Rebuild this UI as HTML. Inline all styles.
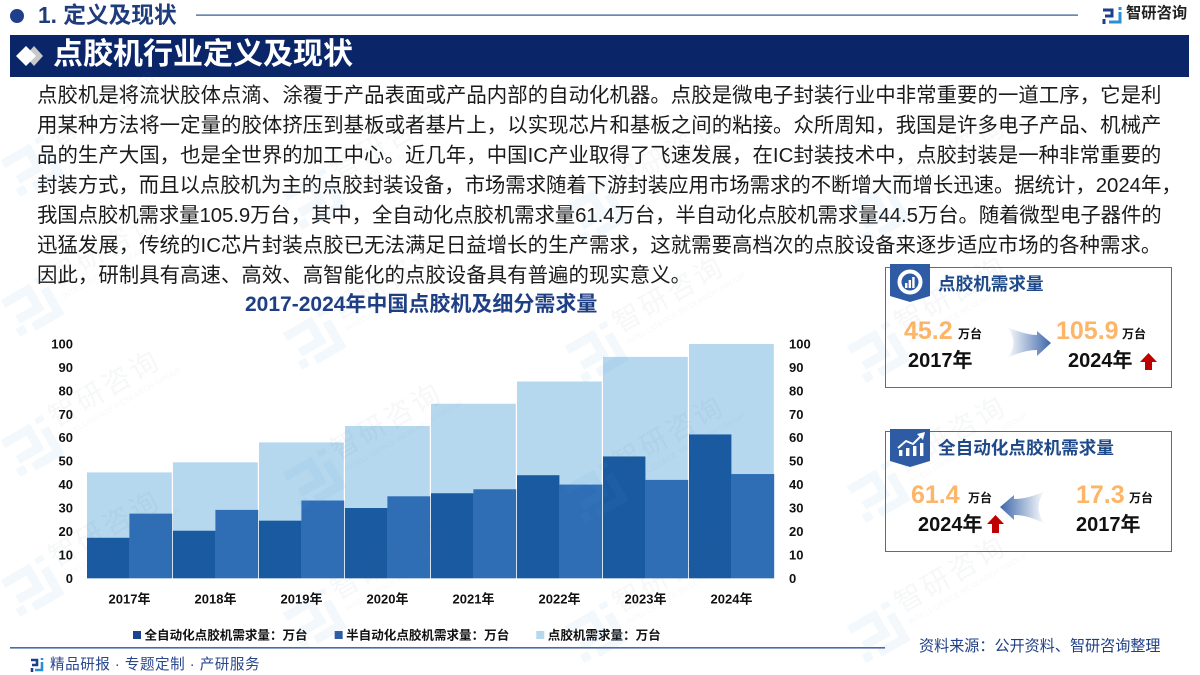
<!DOCTYPE html>
<html lang="zh">
<head>
<meta charset="utf-8">
<title>点胶机行业定义及现状</title>
<style>
html,body{margin:0;padding:0;background:#fff;width:1200px;height:675px;overflow:hidden}
#page{position:relative;width:1200px;height:675px;overflow:hidden;background:#fff;font-family:"Liberation Sans","Noto Sans CJK SC",sans-serif;color:#111}
.abs{position:absolute;white-space:nowrap;line-height:1}
.line{position:absolute;left:37px;white-space:nowrap;font-size:20.4px;line-height:30px;color:#1a1a1a}
.b{font-weight:700}
.num{position:absolute;white-space:nowrap;line-height:1;font-weight:700;font-size:25px;color:#fdb567}
.unit{position:absolute;white-space:nowrap;line-height:1;font-weight:700;font-size:12px;color:#111}
.yr{position:absolute;white-space:nowrap;line-height:1;font-weight:700;font-size:20px;color:#111}
.card{position:absolute;left:885px;width:285px;box-sizing:content-box;border:1.5px solid #4a6ea8;background:#fff}
svg{position:absolute;left:0;top:0;overflow:hidden}
</style>
</head>
<body>
<div id="page">

<!-- header -->
<svg width="1200" height="80">
  <circle cx="17" cy="16" r="7" fill="#1f3f8a"/>
  <rect x="196" y="14.5" width="882" height="1.2" fill="#2d5496"/>
  <g transform="translate(1102,7)" fill="none" stroke-width="3">
    <path d="M1 3H10V9H3" stroke="#1f3f8a"/><path d="M2 12V17" stroke="#1f3f8a"/>
    <path d="M18 3V0" stroke="#2b8fd8"/><path d="M18 5V15H7" stroke="#2b8fd8"/>
  </g>
  <rect x="10" y="35" width="1179" height="42" fill="#0b2668"/>
  <polygon points="34,46 43,56 34,66 25,56" fill="#c8c8c8"/>
  <polygon points="26,46 36,56 26,66 16,56" fill="#ffffff"/>
</svg>
<div class="abs b" style="left:38px;top:4px;font-size:22.7px;color:#1f3c7d">1. 定义及现状</div>
<div class="abs b" style="left:1126px;top:6px;font-size:15.3px;color:#222">智研咨询</div>
<div class="abs b" style="left:53px;top:40px;font-size:30px;color:#fff">点胶机行业定义及现状</div>

<!-- paragraph -->
<div>
<div class="line" style="top:81px;letter-spacing:.055px">点胶机是将流状胶体点滴、涂覆于产品表面或产品内部的自动化机器。点胶是微电子封装行业中非常重要的一道工序，它是利</div>
<div class="line" style="top:111px;letter-spacing:.055px">用某种方法将一定量的胶体挤压到基板或者基片上，以实现芯片和基板之间的粘接。众所周知，我国是许多电子产品、机械产</div>
<div class="line" style="top:141px;letter-spacing:.05px">品的生产大国，也是全世界的加工中心。近几年，中国IC产业取得了飞速发展，在IC封装技术中，点胶封装是一种非常重要的</div>
<div class="line" style="top:171px;letter-spacing:-.03px">封装方式，而且以点胶机为主的点胶封装设备，市场需求随着下游封装应用市场需求的不断增大而增长迅速。据统计，2024年，</div>
<div class="line" style="top:201px;letter-spacing:-.08px">我国点胶机需求量105.9万台，其中，全自动化点胶机需求量61.4万台，半自动化点胶机需求量44.5万台。随着微型电子器件的</div>
<div class="line" style="top:231px;letter-spacing:.05px">迅猛发展，传统的IC芯片封装点胶已无法满足日益增长的生产需求，这就需要高档次的点胶设备来逐步适应市场的各种需求。</div>
<div class="line" style="top:261px;letter-spacing:.05px">因此，研制具有高速、高效、高智能化的点胶设备具有普遍的现实意义。</div>
</div>

<!-- chart -->
<div class="abs b" style="left:245px;top:294px;font-size:21px;color:#1f3f85">2017-2024年中国点胶机及细分需求量</div>
<svg id="chart" width="1200" height="675"></svg>

<!-- card 1 -->
<div class="card" style="top:267px;height:119px"></div>
<svg width="1200" height="675">
  <defs>
    <linearGradient id="arrR" x1="0" x2="1" y1="0" y2="0"><stop offset="0" stop-color="#ffffff"/><stop offset="1" stop-color="#3d66aa"/></linearGradient>
    <linearGradient id="arrL" x1="1" x2="0" y1="0" y2="0"><stop offset="0" stop-color="#ffffff"/><stop offset="1" stop-color="#3d66aa"/></linearGradient>
  </defs>
  <polygon points="890,264 930,264 930,296 910,302 890,296" fill="#2f5ba5"/>
  <g>
    <circle cx="910" cy="282" r="10.5" fill="none" stroke="#fff" stroke-width="4"/>
    <rect x="905" y="283" width="2.4" height="5" fill="#fff"/><rect x="908.6" y="280" width="2.4" height="8" fill="#fff"/><rect x="912.2" y="277" width="2.4" height="11" fill="#fff"/>
  </g>
  <path d="M1007 327 Q1026 335 1037 335 L1037 331 L1051 343 L1037 356 L1037 350 Q1024 350 1007 358 Q1020 343 1007 327 Z" fill="url(#arrR)"/>
  <polygon points="1148.5,353 1157,362 1152,362 1152,370 1145,370 1145,362 1140,362" fill="#c00000"/>
</svg>
<div class="abs b" style="left:938px;top:276px;font-size:17.6px;color:#1f4a8a">点胶机需求量</div>
<div class="num" style="left:904px;top:319px">45.2</div>
<div class="unit" style="left:958px;top:328px">万台</div>
<div class="yr" style="left:908px;top:351px">2017年</div>
<div class="num" style="left:1056px;top:319px">105.9</div>
<div class="unit" style="left:1122px;top:328px">万台</div>
<div class="yr" style="left:1068px;top:351px">2024年</div>

<!-- card 2 -->
<div class="card" style="top:431px;height:119px"></div>
<svg width="1200" height="675">
  <polygon points="890,429 930,429 930,461 910,467 890,461" fill="#2f5ba5"/>
  <g fill="#fff">
    <rect x="899" y="450" width="3.4" height="6"/><rect x="906" y="448" width="3.4" height="8"/><rect x="913" y="446" width="3.4" height="10"/><rect x="920" y="443" width="3.4" height="13"/>
    <path d="M898 448 L906 441 L913 444 L922 435" fill="none" stroke="#fff" stroke-width="2"/>
    <polygon points="917,434 925,432 923,440"/>
  </g>
  <path d="M1045 491 Q1028 499 1014 499 L1014 495 L1000 507 L1014 520 L1014 515 Q1028 515 1045 524 Q1032 507 1045 491 Z" fill="url(#arrL)"/>
  <polygon points="995.5,515 1004,524 999,524 999,533 992,533 992,524 987,524" fill="#c00000"/>
</svg>
<div class="abs b" style="left:938px;top:440px;font-size:17.6px;color:#1f4a8a">全自动化点胶机需求量</div>
<div class="num" style="left:911px;top:483px">61.4</div>
<div class="unit" style="left:968px;top:492px">万台</div>
<div class="yr" style="left:918px;top:515px">2024年</div>
<div class="num" style="left:1076px;top:483px">17.3</div>
<div class="unit" style="left:1129px;top:492px">万台</div>
<div class="yr" style="left:1076px;top:515px">2017年</div>

<!-- footer -->
<svg width="1200" height="675">
  <rect x="10" y="647" width="875" height="1.6" fill="#4a6aa8"/>
  <g transform="translate(30,658)" fill="none" stroke-width="2.6">
    <path d="M1 2H7V7H2" stroke="#1f3f8a"/><path d="M2 10V14" stroke="#1f3f8a"/>
    <path d="M12 2V0" stroke="#2b8fd8"/><path d="M12 4V12H5" stroke="#2b8fd8"/>
  </g>
</svg>
<div class="abs" style="left:50px;top:658px;font-size:14.6px;letter-spacing:.5px;color:#27468c">精品研报 · 专题定制 · 产研服务</div>
<div class="abs" style="left:919px;top:639px;font-size:15.1px;color:#1f3f85">资料来源：公开资料、智研咨询整理</div>

<div id="watermarks" style="position:absolute;left:0;top:0;width:1200px;height:675px;overflow:hidden;pointer-events:none"></div>
</div>

<script>
// Chart data (万台)
var categories = ["2017年","2018年","2019年","2020年","2021年","2022年","2023年","2024年"];
var autoDemand = [17.3,20.3,24.6,30,36.3,44,52,61.4];
var semiDemand = [27.6,29.2,33.2,35,38,40,42,44.5];
var totalDemand = [45.2,49.5,58,65,74.5,84,94.5,105.9];
var yTicks = [0,10,20,30,40,50,60,70,80,90,100];
var legendLabels = ["全自动化点胶机需求量：万台","半自动化点胶机需求量：万台","点胶机需求量：万台"];

(function(){
  var NS = "http://www.w3.org/2000/svg";
  var svg = document.getElementById("chart");
  var plotLeft = 87, plotRight = 775, plotBottom = 578.3, plotTop = 344;
  var yMax = yTicks[yTicks.length-1];
  var step = (plotRight-plotLeft)/categories.length;
  function xBand(i){ return plotLeft + i*step; }
  function yScale(v){ return plotBottom - (Math.min(v,yMax)/yMax)*(plotBottom-plotTop); }
  function rect(x,y,w,h,fill){
    var r = document.createElementNS(NS,"rect");
    r.setAttribute("x",x); r.setAttribute("y",y); r.setAttribute("width",w); r.setAttribute("height",h);
    r.setAttribute("fill",fill);
    return r;
  }
  function label(x,y,str,anchor,size){
    var t = document.createElementNS(NS,"text");
    t.setAttribute("x",x); t.setAttribute("y",y); t.setAttribute("text-anchor",anchor);
    t.setAttribute("font-size",size); t.setAttribute("font-weight","700"); t.setAttribute("fill","#111");
    t.textContent = str;
    return t;
  }
  categories.forEach(function(cat,i){
    var x0 = xBand(i);
    var light = rect(x0, yScale(totalDemand[i]), step-1.2, plotBottom-yScale(totalDemand[i]), "#b5d8ef");
    
    
    svg.appendChild(light);
    var semi = rect(x0+step/2-0.6, yScale(semiDemand[i]), step/2-0.2, plotBottom-yScale(semiDemand[i]), "#2f6eb5");
    
    
    svg.appendChild(semi);
    var auto = rect(x0, yScale(autoDemand[i]), step/2-0.6, plotBottom-yScale(autoDemand[i]), "#1a5aa0");
    
    
    svg.appendChild(auto);
    var xl = label(x0+step/2-0.5, 603.5, cat, "middle", 13);
    
    
    svg.appendChild(xl);
  });
  yTicks.forEach(function(v){
    var ll = label(73, yScale(v)+4.5, String(v), "end", 13);
    
    
    svg.appendChild(ll);
    var rl = label(789, yScale(v)+4.5, String(v), "start", 13);
    
    
    svg.appendChild(rl);
  });
  var legendColors = ["#1a4490","#2f5ba5","#b5d8ef"];
  var lx = 133;
  legendLabels.forEach(function(txt,i){
    var sw = rect(lx, 631, 8, 8, legendColors[i]);
    
    
    svg.appendChild(sw);
    var lt = label(lx+11.5, 639.5, txt, "start", 12.55);
    
    
    svg.appendChild(lt);
    lx += 11.5 + (txt.length*12.55) + 27;
  });
})();

// Watermark tiles
(function(){
  var host = document.getElementById("watermarks");
  var NS = "http://www.w3.org/2000/svg";
  var s = document.createElementNS(NS,"svg");
  s.setAttribute("width","1200"); s.setAttribute("height","675");
  
  
  host.appendChild(s);
  for(var c=0;c<4;c++){
    for(var r=0;r<4;r++){
      var x = 30 + 282*c;
      var y = 167 + 140*r + (c===0?0:(c===1?33:46));
      if(y > 640){ continue; }
      var g = document.createElementNS(NS,"g");
      g.setAttribute("transform","translate("+x+","+y+") rotate(-30)");
      
      
      var p = document.createElementNS(NS,"path");
      p.setAttribute("d","M-22 -16H7V5H-17M-19 12V21M22 -22V-16M22 -9V19H-7");
      p.setAttribute("fill","none");
      p.setAttribute("stroke","#5aa0d0");
      p.setAttribute("stroke-opacity","0.07");
      p.setAttribute("stroke-width","9");
      g.appendChild(p);
      var t = document.createElementNS(NS,"text");
      t.setAttribute("x","32"); t.setAttribute("y","-4");
      t.setAttribute("font-size","28"); t.setAttribute("letter-spacing","3");
      t.setAttribute("fill","#506070"); t.setAttribute("fill-opacity","0.05");
      t.textContent = "智研咨询";
      g.appendChild(t);
      var e = document.createElementNS(NS,"text");
      e.setAttribute("x","34"); e.setAttribute("y","10");
      e.setAttribute("font-size","7.5"); e.setAttribute("letter-spacing","0.3");
      e.setAttribute("fill","#506070"); e.setAttribute("fill-opacity","0.05");
      e.textContent = "INTELLIGENCE RESEARCH GROUP";
      g.appendChild(e);
      s.appendChild(g);
    }
  }
})();
</script>
</body>
</html>
